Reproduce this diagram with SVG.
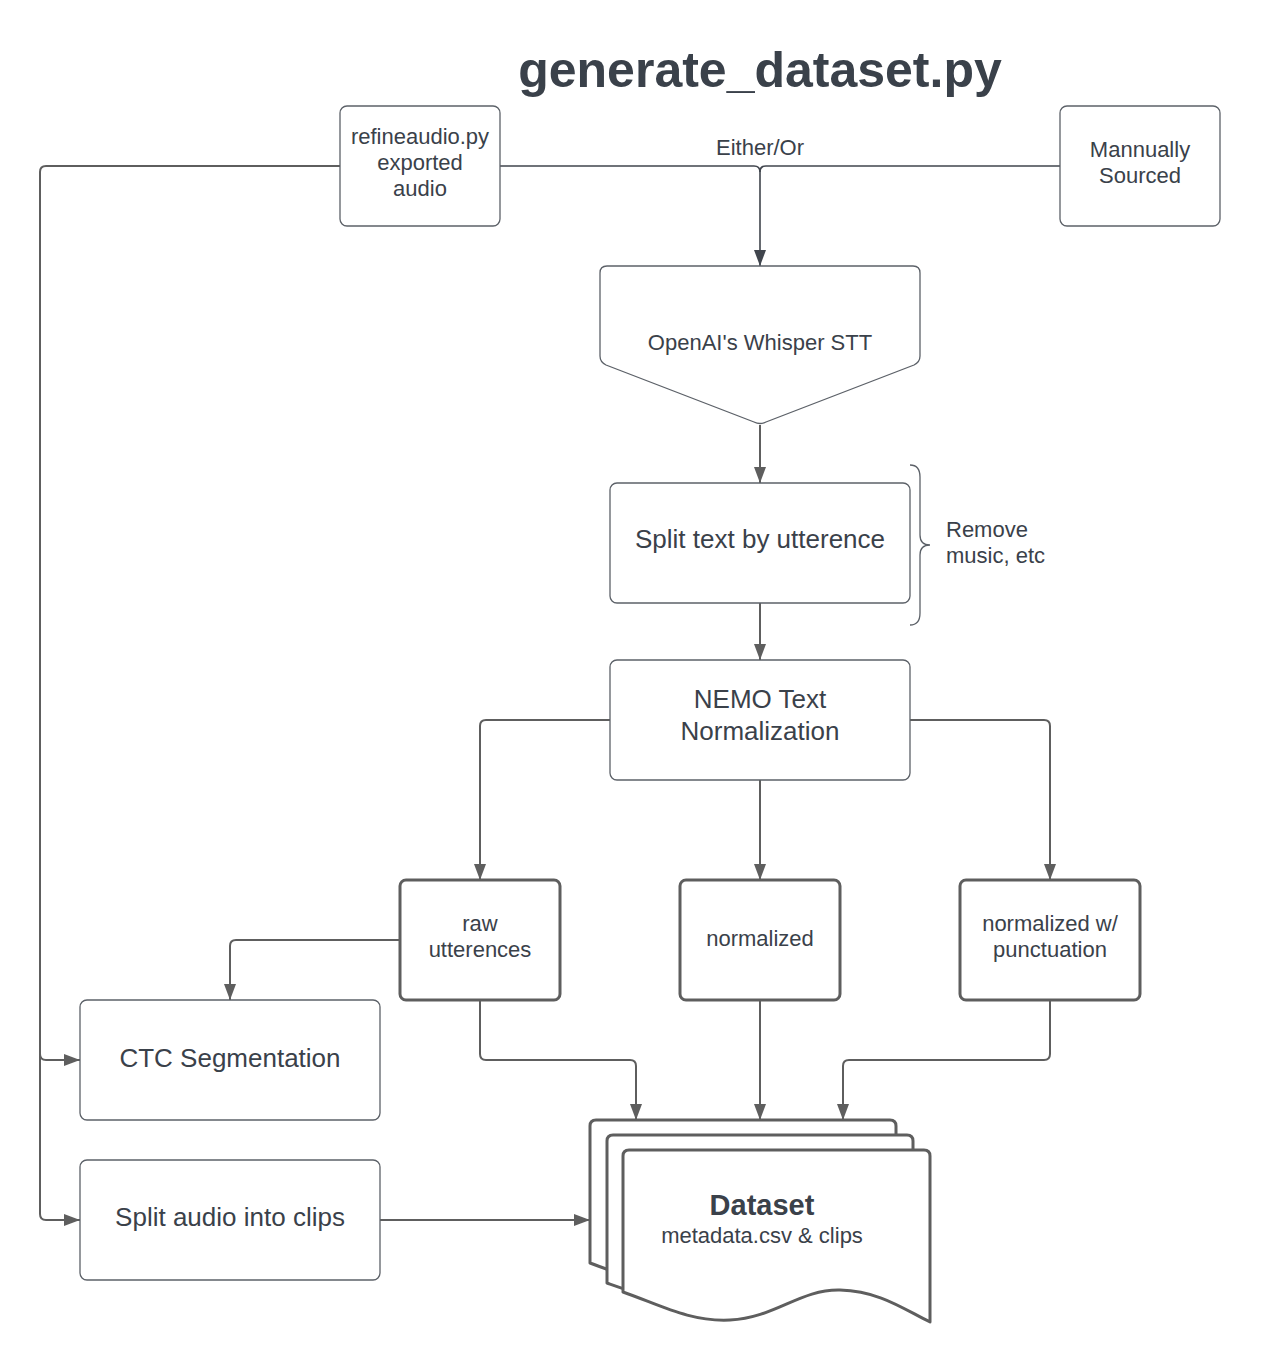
<svg xmlns="http://www.w3.org/2000/svg" width="1261" height="1360" viewBox="0 0 1261 1360">
<defs>
<style>
.t{font-family:"Liberation Sans",Arial,sans-serif;fill:#3a414a;text-anchor:middle;font-size:22px}
.big{font-size:26px}
.box{fill:#fff;stroke:#5c6168;stroke-width:1.3}
.tbox{fill:#fff;stroke:#5e5e5e;stroke-width:3}
.c{fill:none;stroke:#5e5e5e;stroke-width:2}
.cd{fill:none;stroke:#40454d;stroke-width:1.6}
.doc{fill:#fff;stroke:#5e5e5e;stroke-width:3;stroke-linejoin:round}
</style>
<marker id="ah" viewBox="0 0 16 12" refX="16" refY="6" markerWidth="16" markerHeight="12" markerUnits="userSpaceOnUse" orient="auto"><path d="M0,0 L16,6 L0,12 z" fill="#5e5e5e"/></marker>
<marker id="ahd" viewBox="0 0 16 12" refX="16" refY="6" markerWidth="16" markerHeight="12" markerUnits="userSpaceOnUse" orient="auto"><path d="M0,0 L16,6 L0,12 z" fill="#40454d"/></marker>
</defs>
<rect width="1261" height="1360" fill="#fff"/>
<text x="760" y="87" class="t" style="font-size:50px;font-weight:bold">generate_dataset.py</text>

<g id="connectors">
<path class="c" d="M340,166 H46 Q40,166 40,172 V1214 Q40,1220 46,1220 H80" marker-end="url(#ah)"/>
<path class="c" d="M40,1054 Q40,1060 46,1060 H80" marker-end="url(#ah)"/>
<path class="cd" d="M500,166 H754 Q760,166 760,172 V266" marker-end="url(#ahd)"/>
<path class="cd" d="M1060,166 H766 Q760,166 760,172"/>
<text x="760" y="155" class="t">Either/Or</text>
<path class="c" d="M760,425 V483" marker-end="url(#ah)"/>
<path class="c" d="M760,603 V660" marker-end="url(#ah)"/>
<path class="c" d="M610,720 H486 Q480,720 480,726 V880" marker-end="url(#ah)"/>
<path class="c" d="M760,780 V880" marker-end="url(#ah)"/>
<path class="c" d="M910,720 H1044 Q1050,720 1050,726 V880" marker-end="url(#ah)"/>
<path class="c" d="M400,940 H236 Q230,940 230,946 V1000" marker-end="url(#ah)"/>
<path class="c" d="M480,1000 V1054 Q480,1060 486,1060 H630 Q636,1060 636,1066 V1120" marker-end="url(#ah)"/>
<path class="c" d="M760,1000 V1120" marker-end="url(#ah)"/>
<path class="c" d="M1050,1000 V1054 Q1050,1060 1044,1060 H849 Q843,1060 843,1066 V1120" marker-end="url(#ah)"/>
<path class="c" d="M380,1220 H590" marker-end="url(#ah)"/>
</g>

<g id="refineaudio">
<rect class="box" x="340" y="106" width="160" height="120" rx="7"/>
<text class="t"><tspan x="420" y="144">refineaudio.py</tspan><tspan x="420" y="170">exported</tspan><tspan x="420" y="196">audio</tspan></text>
</g>

<g id="manual">
<rect class="box" x="1060" y="106" width="160" height="120" rx="7"/>
<text class="t"><tspan x="1140" y="157">Mannually</tspan><tspan x="1140" y="183">Sourced</tspan></text>
</g>

<g id="whisper">
<path class="box" d="M607,266 H913 Q920,266 920,273 V356 Q920,362 914,365 L766,422 Q760,425 754,422 L606,365 Q600,362 600,356 V273 Q600,266 607,266 Z"/>
<text x="760" y="350" class="t">OpenAI's Whisper STT</text>
</g>

<g id="splittext">
<rect class="box" x="610" y="483" width="300" height="120" rx="7"/>
<text x="760" y="548" class="t big">Split text by utterence</text>
</g>

<g id="brace">
<path fill="none" stroke="#5c6168" stroke-width="1.3" d="M910,465 Q920,465 920,477 V535 Q920,545 930,545 Q920,545 920,555 V613 Q920,625 910,625"/>
<text class="t" style="text-anchor:start"><tspan x="946" y="537">Remove</tspan><tspan x="946" y="563">music, etc</tspan></text>
</g>

<g id="nemo">
<rect class="box" x="610" y="660" width="300" height="120" rx="7"/>
<text class="t big"><tspan x="760" y="708">NEMO Text</tspan><tspan x="760" y="740">Normalization</tspan></text>
</g>

<g id="raw">
<rect class="tbox" x="400" y="880" width="160" height="120" rx="6"/>
<text class="t"><tspan x="480" y="931">raw</tspan><tspan x="480" y="957">utterences</tspan></text>
</g>

<g id="normalized">
<rect class="tbox" x="680" y="880" width="160" height="120" rx="6"/>
<text x="760" y="946" class="t">normalized</text>
</g>

<g id="punct">
<rect class="tbox" x="960" y="880" width="180" height="120" rx="6"/>
<text class="t"><tspan x="1050" y="931">normalized w/</tspan><tspan x="1050" y="957">punctuation</tspan></text>
</g>

<g id="ctc">
<rect class="box" x="80" y="1000" width="300" height="120" rx="7"/>
<text x="230" y="1067" class="t big">CTC Segmentation</text>
</g>

<g id="splitaudio">
<rect class="box" x="80" y="1160" width="300" height="120" rx="7"/>
<text x="230" y="1226" class="t big">Split audio into clips</text>
</g>

<g id="dataset">
<path class="doc" d="M590,1263 V1126 Q590,1120 596,1120 H890 Q896,1120 896,1126 V1290 C871,1280 848,1262 807,1260 C767,1258 740,1288 697,1290 C657,1292 627,1276 590,1263 Z"/>
<path class="doc" d="M607,1283 V1141 Q607,1135 613,1135 H907 Q913,1135 913,1141 V1305 C888,1295 865,1277 824,1275 C784,1273 757,1303 714,1305 C674,1307 644,1296 607,1283 Z"/>
<path class="doc" d="M623,1292 V1156 Q623,1150 629,1150 H924 Q930,1150 930,1156 V1322 C905,1310 880,1291 840,1290 C800,1289 775,1318 730,1320 C690,1322 660,1305 623,1292 Z"/>
<text x="762" y="1215" class="t" style="font-size:29px;font-weight:bold">Dataset</text>
<text x="762" y="1243" class="t">metadata.csv &amp; clips</text>
</g>
</svg>
